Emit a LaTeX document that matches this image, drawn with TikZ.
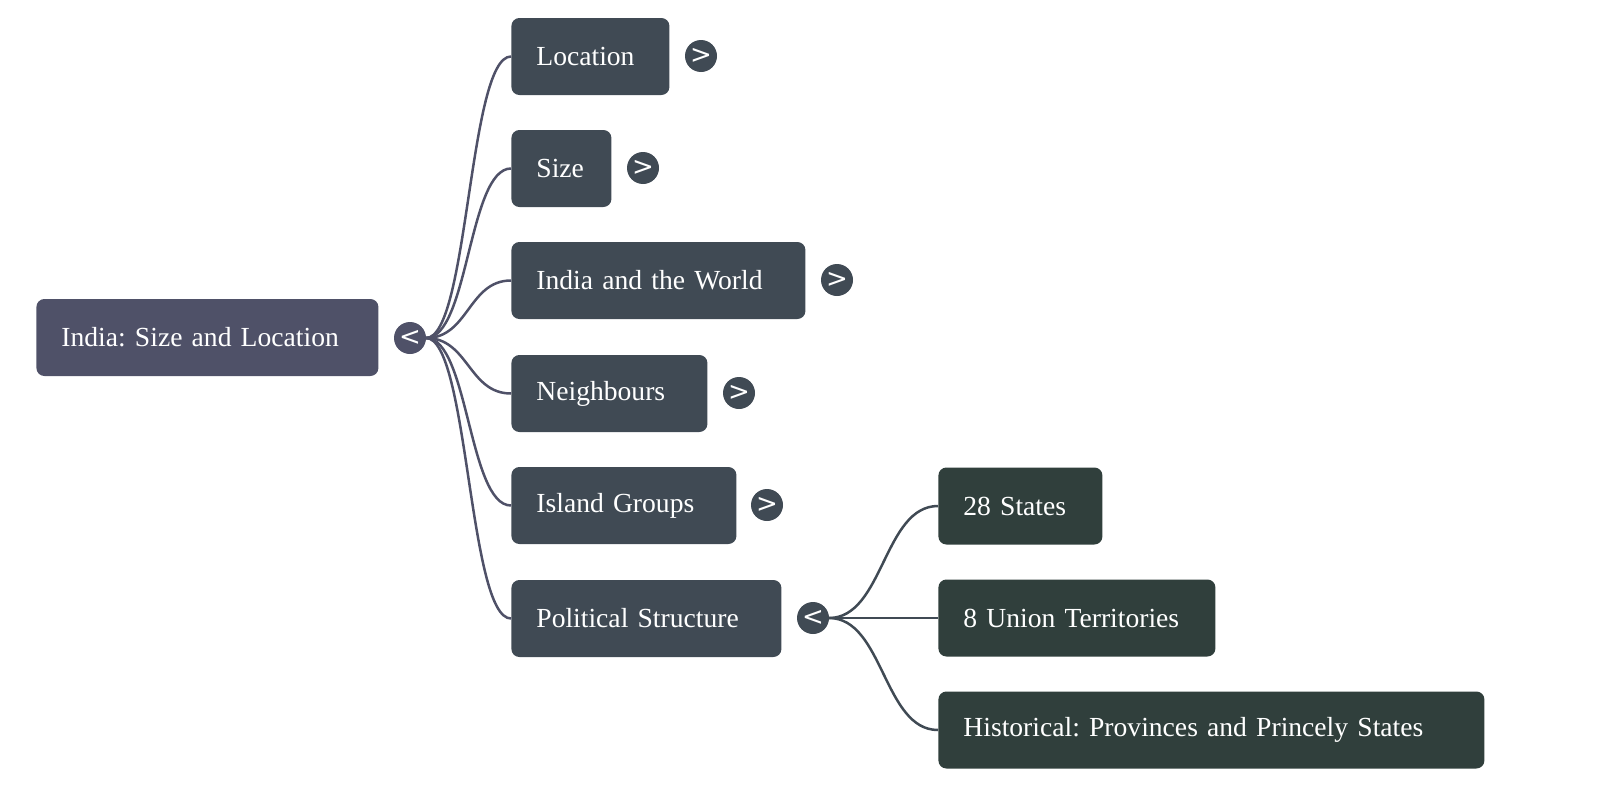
\documentclass[tikz,border=0pt]{standalone}
\usepackage{fontspec}
\setmainfont{Liberation Serif}
\newfontfamily\symfont{DejaVu Sans}
\definecolor{rootc}{HTML}{4F5168}
\definecolor{childc}{HTML}{404A54}
\definecolor{grandc}{HTML}{303F3C}
\definecolor{edgeroot}{HTML}{4F5168}
\begin{document}
\frenchspacing
\begin{tikzpicture}[x=0.5pt,y=-0.5pt,
  box/.style={rounded corners=4pt, anchor=west, inner xsep=12.5pt, inner ysep=0pt,
     minimum height=38.5pt, align=left, text=white, font=\fontsize{13.8}{16}\selectfont\frenchspacing},
  rootbox/.style={box, fill=rootc},
  childbox/.style={box, fill=childc},
  grandbox/.style={box, fill=grandc},
  toggle/.style={circle, inner sep=0pt, minimum size=16pt, text=white,
     font=\symfont\fontsize{13}{13}\selectfont},
  link/.style={line width=1.25pt},
]
\useasboundingbox (0,0) rectangle (1600,803);
% nodes
\node[rootbox, text width=146pt] (root) at (36,337.5) {India: Size and Location};
\node[childbox, text width=54pt] (loc) at (511,56.5) {Location};
\node[childbox, text width=25pt] (size) at (511,168.5) {Size};
\node[childbox, text width=122pt] (world) at (511,280.5) {India and the World};
\node[childbox, text width=73pt] (neigh) at (511,393.5) {Neighbours};
\node[childbox, text width=87.5pt] (island) at (511,505.5) {Island Groups};
\node[childbox, text width=110pt] (polit) at (511,618.5) {Political Structure};
\node[grandbox, text width=57pt] (states) at (938,506) {28 States};
\node[grandbox, text width=113.5pt] (ut) at (938,618) {8 Union Territories};
\node[grandbox, text width=248pt] (hist) at (938,730) {Historical: Provinces and Princely States};
% edges
\begin{scope}[draw=edgeroot]
\coordinate (rs) at (426,338);
\draw[link] (rs) .. controls (468.5,338) and (468.5,56.5) .. (loc.west);
\draw[link] (rs) .. controls (468.5,338) and (468.5,168.5) .. (size.west);
\draw[link] (rs) .. controls (468.5,338) and (468.5,280.5) .. (world.west);
\draw[link] (rs) .. controls (468.5,338) and (468.5,393.5) .. (neigh.west);
\draw[link] (rs) .. controls (468.5,338) and (468.5,505.5) .. (island.west);
\draw[link] (rs) .. controls (468.5,338) and (468.5,618.5) .. (polit.west);
\end{scope}
\begin{scope}[draw=childc]
\coordinate (ps) at (829,618);
\draw[link] (ps) .. controls (883.5,618) and (883.5,506) .. (states.west);
\draw[link] (ps) -- (ut.west);
\draw[link] (ps) .. controls (883.5,618) and (883.5,730) .. (hist.west);
\end{scope}
% toggles
\node[toggle, fill=rootc] (troot) at (410,338) {<};
\node[toggle, fill=childc] (tloc) at (701,56) {>};
\node[toggle, fill=childc] (tsize) at (643,168) {>};
\node[toggle, fill=childc] (tworld) at (837,280) {>};
\node[toggle, fill=childc] (tneigh) at (739,393) {>};
\node[toggle, fill=childc] (tisland) at (767,505) {>};
\node[toggle, fill=childc] (tpolit) at (813,618) {<};
\end{tikzpicture}
\end{document}
